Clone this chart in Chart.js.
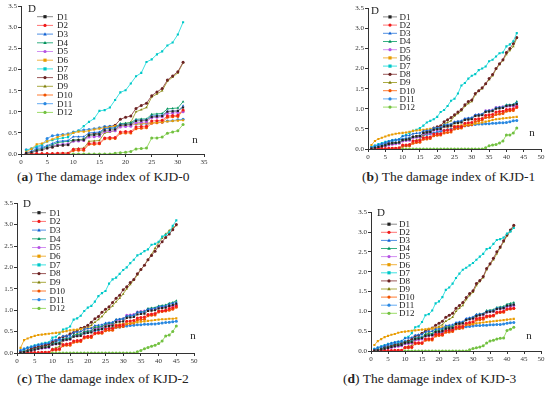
<!DOCTYPE html>
<html>
<head>
<meta charset="utf-8">
<script src="https://cdn.jsdelivr.net/npm/chart.js@4.4.0/dist/chart.umd.min.js"></script>
<style>
  body { margin: 0; background: #fff; }
  #page { position: relative; width: 550px; height: 395px; overflow: hidden; background: #fff; }
  canvas { position: absolute; }
  .cap { position: absolute; font-family: "Liberation Serif", serif; font-size: 13.5px; color: #222; white-space: nowrap; }
</style>
</head>
<body>
<div id="page">
  <canvas id="chartA"></canvas>
  <canvas id="chartB"></canvas>
  <canvas id="chartC"></canvas>
  <canvas id="chartD"></canvas>
  <div class="cap" style="left:17px;top:169px">(<b>a</b>) The damage index of KJD-0</div>
  <div class="cap" style="left:362px;top:169px">(<b>b</b>) The damage index of KJD-1</div>
  <div class="cap" style="left:17px;top:371px">(<b>c</b>) The damage index of KJD-2</div>
  <div class="cap" style="left:343px;top:371px">(<b>d</b>) The damage index of KJD-3</div>
</div>
<script>
const seriesNames = ['D1','D2','D3','D4','D5','D6','D7','D8','D9','D10','D11','D12'];
const yTicks = [0, 0.5, 1.0, 1.5, 2.0, 2.5, 3.0, 3.5];

// KJD-0, n = 1..31
const a1 = [0.02,0.04,0.08,0.10,0.14, 0.17,0.20,0.21,0.22, 0.32,0.33,0.33, 0.44,0.45,0.46, 0.56,0.57,0.58, 0.68,0.69,0.70, 0.78,0.79,0.80, 0.88,0.89,0.90, 1.00,1.01,1.02, 1.10];
const a2 = [0,0,0.01,0.01,0.01, 0.01,0.02,0.02,0.02, 0.11,0.12,0.12, 0.25,0.26,0.26, 0.38,0.39,0.39, 0.52,0.53,0.53, 0.64,0.65,0.66, 0.78,0.79,0.80, 0.90,0.91,0.92, 1.04];
const a3 = [0.03,0.06,0.13,0.15,0.20, 0.25,0.30,0.31,0.32, 0.41,0.41,0.41, 0.50,0.51,0.52, 0.60,0.61,0.62, 0.70,0.70,0.71, 0.80,0.80,0.81, 0.90,0.91,0.92, 1.01,1.02,1.02, 1.14];
const a4 = [0.02,0.05,0.10,0.13,0.18, 0.22,0.27,0.29,0.30, 0.33,0.34,0.35, 0.45,0.46,0.47, 0.60,0.61,0.62, 0.72,0.73,0.74, 0.82,0.83,0.83, 0.94,0.95,0.96, 1.07,1.08,1.09, 1.24];
const a5 = [0.02,0.04,0.08,0.11,0.15, 0.19,0.22,0.23,0.24, 0.30,0.31,0.32, 0.40,0.41,0.42, 0.53,0.54,0.55, 0.64,0.65,0.66, 0.74,0.75,0.76, 0.86,0.87,0.88, 0.96,0.97,0.98, 1.00];
const a6 = [0.05,0.12,0.23,0.25,0.30, 0.35,0.40,0.44,0.46, 0.50,0.53,0.53, 0.55,0.58,0.60, 0.62,0.64,0.66, 0.67,0.68,0.70, 0.71,0.72,0.73, 0.74,0.75,0.76, 0.77,0.78,0.79, 0.80];
const a7 = [0.09,0.13,0.18,0.22,0.30, 0.33,0.36,0.38,0.40, 0.50,0.55,0.66, 0.76,0.84,1.02, 1.04,1.10,1.28, 1.46,1.51,1.67, 1.84,1.92,2.18, 2.24,2.36,2.43, 2.57,2.64,2.83, 3.12];
const a8 = [0.02,0.04,0.07,0.10,0.14, 0.16,0.20,0.21,0.22, 0.32,0.33,0.35, 0.46,0.48,0.50, 0.62,0.64,0.68, 0.82,0.87,0.90, 1.08,1.15,1.20, 1.38,1.47,1.55, 1.75,1.85,1.95, 2.17];
const a9 = [0,0,0,0,0.01, 0.01,0.01,0.02,0.02, 0.12,0.13,0.14, 0.30,0.31,0.32, 0.50,0.52,0.55, 0.70,0.72,0.75, 1.00,1.05,1.10, 1.35,1.42,1.50, 1.72,1.82,1.92, 2.16];
const a10 = [0,0,0,0,0, 0,0,0.01,0.01, 0.08,0.09,0.09, 0.23,0.23,0.24, 0.36,0.36,0.37, 0.49,0.50,0.50, 0.60,0.61,0.62, 0.73,0.74,0.75, 0.87,0.88,0.89, 1.02];
const a11 = [0.10,0.12,0.16,0.20,0.37, 0.43,0.45,0.46,0.48, 0.52,0.55,0.57, 0.58,0.60,0.62, 0.65,0.66,0.67, 0.68,0.69,0.70, 0.71,0.71,0.72, 0.74,0.75,0.76, 0.78,0.79,0.81, 0.82];
const a12 = [0,0,0,0,0, 0,0,0,0, 0,0,0, 0,0,0, 0,0,0.02, 0.03,0.04,0.06, 0.12,0.13,0.14, 0.38,0.38,0.40, 0.49,0.52,0.55, 0.70];

// KJD-1, n = 1..43
const b1 = [0.01,0.03,0.05,0.07,0.09, 0.12,0.14,0.15,0.16, 0.22,0.23,0.24, 0.30,0.31,0.32, 0.40,0.41,0.42, 0.48,0.49,0.50, 0.56,0.57,0.58, 0.64,0.65,0.66, 0.72,0.73,0.74, 0.82,0.83,0.84, 0.92,0.93,0.94, 1.00,1.01,1.02, 1.07,1.08,1.09, 1.12];
const b2 = [0,0,0.01,0.01,0.01, 0.02,0.02,0.02,0.03, 0.10,0.10,0.11, 0.20,0.20,0.21, 0.28,0.29,0.30, 0.37,0.38,0.38, 0.46,0.47,0.47, 0.55,0.56,0.56, 0.64,0.65,0.66, 0.74,0.75,0.76, 0.84,0.85,0.86, 0.92,0.93,0.94, 0.98,0.99,1.00, 1.05];
const b3 = [0.03,0.06,0.10,0.13,0.16, 0.19,0.22,0.23,0.24, 0.32,0.33,0.34, 0.38,0.39,0.40, 0.45,0.46,0.47, 0.52,0.53,0.54, 0.60,0.61,0.62, 0.68,0.69,0.70, 0.76,0.77,0.78, 0.85,0.86,0.87, 0.94,0.95,0.96, 1.02,1.03,1.04, 1.08,1.09,1.10, 1.15];
const b4 = [0.01,0.03,0.05,0.08,0.10, 0.12,0.14,0.15,0.16, 0.22,0.23,0.24, 0.30,0.31,0.32, 0.40,0.41,0.42, 0.50,0.51,0.52, 0.58,0.59,0.60, 0.66,0.67,0.68, 0.74,0.75,0.76, 0.84,0.85,0.86, 0.94,0.95,0.96, 1.02,1.03,1.04, 1.10,1.10,1.11, 1.18];
const b5 = [0.01,0.02,0.04,0.06,0.08, 0.10,0.12,0.13,0.14, 0.20,0.21,0.22, 0.28,0.29,0.30, 0.38,0.39,0.40, 0.47,0.48,0.49, 0.56,0.57,0.58, 0.66,0.67,0.68, 0.74,0.75,0.76, 0.84,0.85,0.86, 0.95,0.96,0.97, 1.03,1.04,1.05, 1.06,1.07,1.07, 1.08];
const b6 = [0.10,0.20,0.25,0.28,0.31, 0.34,0.36,0.38,0.39,0.40, 0.41,0.43,0.45,0.46,0.47, 0.48,0.49,0.50,0.51,0.52, 0.53,0.54,0.55,0.56,0.57, 0.58,0.59,0.60,0.61,0.62, 0.63,0.64,0.66,0.68,0.70, 0.72,0.74,0.75,0.76,0.77, 0.78,0.79,0.80];
const b7 = [0.04,0.08,0.12,0.15,0.18, 0.20,0.22,0.23,0.25,0.33, 0.35,0.40,0.45,0.48,0.52, 0.58,0.66,0.70,0.74,0.80, 0.92,0.97,1.07,1.20,1.25, 1.38,1.58,1.64,1.75,1.82, 1.86,1.96,2.00,2.05,2.18, 2.22,2.30,2.38,2.40,2.55, 2.60,2.68,2.88];
const b8 = [0.01,0.02,0.04,0.06,0.10, 0.13,0.15,0.15,0.16,0.22, 0.23,0.25,0.30,0.32,0.32, 0.40,0.43,0.45,0.52,0.55, 0.58,0.68,0.73,0.78,0.85, 0.92,0.98,1.10,1.18,1.22, 1.38,1.45,1.52,1.62,1.75, 1.85,2.00,2.12,2.22,2.40, 2.50,2.62,2.77];
const b9 = [0,0,0,0,0, 0.01,0.01,0.01,0.01, 0.08,0.08,0.09, 0.20,0.22,0.24, 0.35,0.38,0.42, 0.50,0.53,0.56, 0.62,0.66,0.70, 0.82,0.88,0.95, 1.06,1.13,1.18, 1.35,1.45,1.50, 1.62,1.72,1.82, 1.98,2.10,2.20, 2.35,2.45,2.55, 2.75];
const b10 = [0,0,0,0,0, 0,0.01,0.01,0.01, 0.07,0.08,0.08, 0.14,0.16,0.17, 0.24,0.25,0.26, 0.33,0.34,0.35, 0.40,0.41,0.42, 0.50,0.51,0.52, 0.58,0.59,0.60, 0.68,0.70,0.72, 0.78,0.79,0.80, 0.86,0.87,0.88, 0.94,0.95,0.96, 1.03];
const b11 = [0.05,0.08,0.10,0.12,0.14, 0.16,0.20,0.22,0.23,0.25, 0.26,0.28,0.30,0.31,0.33, 0.35,0.36,0.38,0.40,0.42, 0.44,0.46,0.48,0.50,0.52, 0.54,0.56,0.58,0.59,0.60, 0.61,0.62,0.62,0.63,0.63, 0.64,0.64,0.65,0.65,0.66, 0.68,0.70,0.71];
const b12 = [0,0,0,0,0, 0,0,0,0,0, 0,0,0,0,0, 0,0,0,0,0, 0,0,0,0,0, 0,0,0,0,0, 0,0,0,0.03,0.08, 0.10,0.11,0.15,0.20,0.35, 0.35,0.40,0.52];

// KJD-2, n = 1..45
const c1 = [0.01,0.02,0.04,0.06,0.08, 0.10,0.12,0.13,0.14, 0.20,0.21,0.22, 0.30,0.31,0.32, 0.38,0.39,0.40, 0.46,0.47,0.48, 0.54,0.55,0.56, 0.62,0.63,0.64, 0.72,0.73,0.74, 0.82,0.83,0.84, 0.90,0.91,0.92, 0.98,0.99,1.00, 1.04,1.05,1.06, 1.10,1.12,1.15];
const c2 = [0,0,0,0.01,0.01, 0.01,0.02,0.02,0.02, 0.08,0.09,0.10, 0.20,0.21,0.22, 0.28,0.29,0.30, 0.38,0.39,0.40, 0.47,0.48,0.49, 0.56,0.57,0.58, 0.64,0.65,0.66, 0.74,0.75,0.76, 0.82,0.83,0.84, 0.90,0.91,0.92, 0.98,0.99,1.00, 1.04,1.06,1.10];
const c3 = [0.05,0.09,0.12,0.14,0.17, 0.19,0.21,0.22,0.23, 0.30,0.31,0.32, 0.40,0.40,0.41, 0.48,0.49,0.50, 0.56,0.57,0.58, 0.64,0.65,0.66, 0.70,0.71,0.72, 0.78,0.79,0.80, 0.86,0.87,0.88, 0.94,0.95,0.96, 1.02,1.03,1.04, 1.08,1.09,1.10, 1.14,1.16,1.18];
const c4 = [0.01,0.03,0.05,0.07,0.09, 0.11,0.13,0.14,0.15, 0.22,0.23,0.24, 0.32,0.33,0.34, 0.42,0.43,0.44, 0.50,0.51,0.52, 0.60,0.61,0.62, 0.68,0.69,0.70, 0.78,0.79,0.80, 0.86,0.87,0.88, 0.95,0.96,0.97, 1.04,1.05,1.06, 1.10,1.11,1.12, 1.16,1.18,1.22];
const c5 = [0.01,0.02,0.04,0.06,0.08, 0.10,0.11,0.12,0.13, 0.20,0.21,0.22, 0.30,0.31,0.32, 0.40,0.41,0.42, 0.50,0.51,0.52, 0.58,0.59,0.60, 0.66,0.67,0.68, 0.76,0.78,0.80, 0.88,0.89,0.90, 0.96,0.97,0.98, 1.02,1.03,1.04, 1.06,1.07,1.08, 1.09,1.10,1.12];
const c6 = [0.12,0.30,0.34,0.37,0.40, 0.42,0.43,0.44,0.45,0.46, 0.47,0.48,0.50,0.51,0.53, 0.54,0.55,0.56,0.57,0.58, 0.59,0.60,0.61,0.62,0.63, 0.64,0.65,0.66,0.67,0.68, 0.69,0.70,0.71,0.72,0.73, 0.74,0.75,0.76,0.77,0.78, 0.79,0.79,0.80,0.80,0.81];
const c7 = [0.04,0.08,0.12,0.15,0.18, 0.20,0.22,0.24,0.25,0.36, 0.38,0.45,0.55,0.57,0.62, 0.78,0.81,0.87,0.98,1.06, 1.10,1.20,1.33,1.40,1.45, 1.62,1.72,1.76,1.85,1.94, 2.00,2.10,2.18,2.28,2.32, 2.38,2.42,2.53,2.55,2.60, 2.72,2.76,2.82,2.97,3.10];
const c8 = [0.02,0.04,0.06,0.10,0.12, 0.14,0.15,0.18,0.20,0.25, 0.30,0.35,0.38,0.40,0.45, 0.48,0.52,0.58,0.60,0.65, 0.72,0.80,0.85,0.95,1.02, 1.08,1.18,1.28,1.35,1.48, 1.55,1.65,1.72,1.85,1.95, 2.05,2.18,2.28,2.38,2.50, 2.60,2.70,2.78,2.88,3.00];
const c9 = [0,0,0,0,0, 0.01,0.01,0.01,0.02, 0.10,0.12,0.15, 0.28,0.30,0.32, 0.40,0.45,0.50, 0.55,0.60,0.65, 0.72,0.78,0.85, 0.95,1.02,1.10, 1.20,1.28,1.38, 1.50,1.60,1.70, 1.82,1.95,2.05, 2.18,2.30,2.45, 2.58,2.68,2.78, 2.86,2.92,2.98];
const c10 = [0,0,0,0,0, 0,0,0.01,0.01, 0.07,0.07,0.08, 0.17,0.18,0.18, 0.25,0.26,0.27, 0.35,0.36,0.36, 0.45,0.46,0.46, 0.52,0.53,0.53, 0.60,0.61,0.62, 0.68,0.69,0.70, 0.77,0.78,0.79, 0.87,0.88,0.89, 0.96,0.97,0.98, 1.00,1.02,1.07];
const c11 = [0.06,0.10,0.12,0.14,0.16, 0.18,0.20,0.22,0.23,0.24, 0.26,0.30,0.32,0.34,0.36, 0.40,0.42,0.44,0.46,0.48, 0.50,0.52,0.54,0.56,0.57, 0.58,0.59,0.60,0.61,0.62, 0.63,0.64,0.65,0.66,0.66, 0.67,0.67,0.68,0.68,0.69, 0.70,0.71,0.72,0.73,0.74];
const c12 = [0,0,0,0,0, 0,0,0,0,0, 0,0,0,0,0, 0,0,0,0,0, 0,0,0,0,0, 0,0,0,0,0, 0,0,0,0.03,0.06, 0.10,0.13,0.16,0.18,0.22, 0.28,0.40,0.42,0.50,0.63];

// KJD-3, n = 1..42
const d1 = [0.01,0.02,0.04,0.06,0.08, 0.10,0.12,0.14,0.15, 0.20,0.21,0.22, 0.30,0.31,0.32, 0.38,0.39,0.40, 0.48,0.49,0.50, 0.56,0.57,0.58, 0.68,0.69,0.70, 0.78,0.80,0.82, 0.88,0.90,0.92, 0.98,0.99,1.00, 1.06,1.07,1.08, 1.14,1.15,1.17];
const d2 = [0,0,0,0.01,0.01, 0.01,0.02,0.02,0.02, 0.09,0.10,0.10, 0.20,0.21,0.21, 0.30,0.31,0.31, 0.42,0.43,0.43, 0.52,0.53,0.53, 0.60,0.61,0.62, 0.70,0.72,0.74, 0.82,0.83,0.84, 0.88,0.89,0.90, 0.98,0.99,1.00, 1.06,1.07,1.08];
const d3 = [0.04,0.08,0.11,0.14,0.17, 0.20,0.22,0.24,0.25, 0.32,0.33,0.34, 0.40,0.41,0.42, 0.48,0.49,0.50, 0.55,0.56,0.57, 0.64,0.65,0.66, 0.72,0.73,0.74, 0.82,0.84,0.86, 0.92,0.93,0.94, 1.00,1.01,1.02, 1.08,1.09,1.10, 1.15,1.16,1.18];
const d4 = [0.01,0.03,0.05,0.07,0.09, 0.11,0.13,0.15,0.16, 0.22,0.23,0.24, 0.32,0.33,0.34, 0.42,0.43,0.44, 0.52,0.53,0.54, 0.60,0.61,0.62, 0.70,0.71,0.72, 0.80,0.82,0.84, 0.92,0.93,0.94, 1.02,1.03,1.04, 1.10,1.11,1.12, 1.18,1.20,1.22];
const d5 = [0.01,0.02,0.03,0.05,0.07, 0.09,0.11,0.12,0.13, 0.18,0.19,0.20, 0.28,0.29,0.30, 0.38,0.39,0.40, 0.48,0.49,0.50, 0.58,0.59,0.60, 0.68,0.69,0.70, 0.80,0.81,0.82, 0.90,0.91,0.92, 0.98,0.99,1.00, 1.06,1.07,1.08, 1.12,1.13,1.15];
const d6 = [0.15,0.25,0.30,0.35,0.38, 0.41,0.43,0.46,0.48,0.49, 0.50,0.51,0.52,0.53,0.54, 0.55,0.56,0.57,0.58,0.59, 0.60,0.61,0.62,0.63,0.64, 0.65,0.66,0.67,0.68,0.69, 0.70,0.71,0.72,0.73,0.74, 0.75,0.76,0.77,0.78,0.79, 0.80,0.81];
const d7 = [0.05,0.08,0.12,0.15,0.18, 0.20,0.22,0.23,0.25,0.33, 0.36,0.45,0.60,0.62,0.73, 0.90,0.93,1.02,1.20,1.25, 1.36,1.54,1.60,1.70,1.84, 1.95,2.05,2.10,2.16,2.22, 2.30,2.38,2.45,2.57,2.60, 2.70,2.80,2.82,2.86,2.96, 3.01,3.10];
const d8 = [0.02,0.03,0.05,0.08,0.10, 0.12,0.15,0.16,0.18,0.22, 0.25,0.30,0.38,0.40,0.45, 0.50,0.55,0.58,0.65,0.70, 0.75,0.85,0.90,0.95,1.08, 1.15,1.22,1.35,1.45,1.52, 1.70,1.78,1.88,2.08,2.20, 2.34,2.50,2.62,2.78,2.93, 3.05,3.17];
const d9 = [0,0,0,0,0, 0.01,0.01,0.01,0.02, 0.10,0.12,0.14, 0.28,0.30,0.32, 0.42,0.46,0.50, 0.58,0.62,0.66, 0.75,0.80,0.85, 1.00,1.08,1.15, 1.30,1.40,1.48, 1.65,1.75,1.85, 2.05,2.18,2.30, 2.45,2.60,2.75, 2.90,3.02,3.15];
const d10 = [0,0,0,0,0, 0,0,0.01,0.01, 0.08,0.08,0.09, 0.18,0.19,0.19, 0.27,0.28,0.28, 0.38,0.39,0.40, 0.47,0.48,0.49, 0.56,0.57,0.58, 0.66,0.67,0.68, 0.78,0.79,0.80, 0.86,0.87,0.88, 0.96,0.97,0.98, 1.05,1.06,1.07];
const d11 = [0.05,0.08,0.10,0.12,0.14, 0.16,0.18,0.20,0.21,0.25, 0.26,0.28,0.32,0.34,0.36, 0.38,0.40,0.42,0.44,0.46, 0.48,0.50,0.52,0.54,0.56, 0.58,0.60,0.61,0.62,0.63, 0.64,0.64,0.65,0.65,0.66, 0.66,0.67,0.67,0.68,0.70, 0.71,0.72];
const d12 = [0,0,0,0,0, 0,0,0,0,0, 0,0,0,0,0, 0,0,0,0,0, 0,0,0,0,0, 0,0,0,0.03,0.06, 0.08,0.10,0.13,0.20,0.25, 0.27,0.30,0.32,0.33,0.52, 0.55,0.60];

// line colour, marker colour, marker shape
const lineColors  = ['#8a8a8a','#ff7373','#4f8fe3','#35b082','#d290f2','#f0b444','#3ee2e2','#9c5a5a','#abab42','#ff7d33','#64abf2','#9ddc6a'];
const pointColors = ['#222222','#ee1a1a','#1262d2','#00905a','#b452e2','#e89c00','#00c6c6','#6a2222','#7f7f10','#f05200','#2a88e0','#72c042'];
const shapes = ['rect','circle','triangle','triangle','circle','rect','rect','circle','triangle','circle','circle','circle'];

const panels = [
  { id: 'chartA', L: 21,  T: 6,   R: 204, B: 154, xMax: 35, data: [a1,a2,a3,a4,a5,a6,a7,a8,a9,a10,a11,a12],
    leg: { x: 16, top: 10.5, gap: 8.7, len: 16, tx: 36 }, dLab: { x: 11, y: 3 }, nLab: { x: -9, y: -14 } },
  { id: 'chartB', L: 368, T: 8,   R: 541, B: 149, xMax: 50, data: [b1,b2,b3,b4,b5,b6,b7,b8,b9,b10,b11,b12],
    leg: { x: 15, top: 8.7, gap: 8.2, len: 14, tx: 31.5 }, dLab: { x: 7, y: 3 }, nLab: { x: -9, y: -16 } },
  { id: 'chartC', L: 17,  T: 203, R: 194, B: 353, xMax: 50, data: [c1,c2,c3,c4,c5,c6,c7,c8,c9,c10,c11,c12],
    leg: { x: 15, top: 9.5, gap: 8.7, len: 14, tx: 32.5 }, dLab: { x: 10, y: 1 }, nLab: { x: -1, y: -17 } },
  { id: 'chartD', L: 371, T: 212, R: 541, B: 351, xMax: 50, data: [d1,d2,d3,d4,d5,d6,d7,d8,d9,d10,d11,d12],
    leg: { x: 10, top: 12, gap: 8.1, len: 16, tx: 28 }, dLab: { x: 10, y: 1 }, nLab: { x: -12, y: -15 } }
];

const yW = 17, xH = 13, padTop = 5, padRight = 7;
const serif = '"Liberation Serif", serif';

function marker(ctx, shape, x, y, r) {
  ctx.beginPath();
  if (shape === 'rect') {
    ctx.rect(x - r, y - r, 2 * r, 2 * r);
  } else if (shape === 'triangle') {
    ctx.moveTo(x, y - r * 1.2);
    ctx.lineTo(x + r * 1.1, y + r * 0.8);
    ctx.lineTo(x - r * 1.1, y + r * 0.8);
    ctx.closePath();
  } else {
    ctx.arc(x, y, r, 0, Math.PI * 2);
  }
  ctx.fill();
}

// legend inside the plot + the "D" and "n" axis letters
const overlay = {
  id: 'overlay',
  afterDatasetsDraw(chart, args, opts) {
    const ctx = chart.ctx, ca = chart.chartArea;
    ctx.save();
    ctx.font = '9px ' + serif;
    ctx.textBaseline = 'middle';
    chart.data.datasets.forEach((ds, i) => {
      const y = ca.top + opts.leg.top + i * opts.leg.gap;
      const x0 = ca.left + opts.leg.x;
      ctx.strokeStyle = ds.borderColor;
      ctx.lineWidth = 1;
      ctx.beginPath();
      ctx.moveTo(x0, y);
      ctx.lineTo(x0 + opts.leg.len, y);
      ctx.stroke();
      ctx.fillStyle = ds.pointBackgroundColor;
      marker(ctx, ds.pointStyle, x0 + opts.leg.len / 2, y, 1.6);
      ctx.fillStyle = '#222';
      ctx.fillText(ds.label, ca.left + opts.leg.tx, y + 0.5);
    });
    // letters are placed by their centre
    ctx.font = '11px ' + serif;
    ctx.textAlign = 'center';
    ctx.textBaseline = 'middle';
    ctx.fillStyle = '#222';
    ctx.fillText('D', ca.left + opts.dLab.x, ca.top + opts.dLab.y);
    ctx.fillText('n', ca.right + opts.nLab.x, ca.bottom + opts.nLab.y);
    ctx.restore();
  }
};

panels.forEach(p => {
  const cv = document.getElementById(p.id);
  const w = p.R - p.L + yW + padRight;
  const h = p.B - p.T + padTop + xH;
  cv.width = w; cv.height = h;
  cv.style.left = (p.L - yW) + 'px';
  cv.style.top = (p.T - padTop) + 'px';

  const datasets = p.data.map((vals, i) => ({
    label: seriesNames[i],
    data: vals.map((v, k) => ({ x: k + 1, y: v })),
    borderColor: lineColors[i],
    backgroundColor: pointColors[i],
    pointBackgroundColor: pointColors[i],
    pointBorderWidth: 0,
    pointStyle: shapes[i],
    pointRadius: 1.5,
    borderWidth: 1,
    tension: 0
  }));

  new Chart(cv, {
    type: 'line',
    data: { datasets },
    plugins: [overlay],
    options: {
      responsive: false,
      animation: false,
      layout: { padding: { top: padTop, right: padRight, left: 0, bottom: 0 } },
      plugins: {
        legend: { display: false },
        tooltip: { enabled: false },
        overlay: { leg: p.leg, dLab: p.dLab, nLab: p.nLab }
      },
      scales: {
        x: {
          type: 'linear', min: 0, max: p.xMax,
          afterFit: s => { s.height = xH; },
          ticks: { stepSize: 5, padding: 1, font: { family: serif, size: 7 }, color: '#333', maxRotation: 0 },
          grid: { drawOnChartArea: false, drawTicks: true, tickLength: 3, color: '#333' },
          border: { color: '#333', width: 1 }
        },
        y: {
          min: 0, max: 3.5,
          afterFit: s => { s.width = yW; },
          afterBuildTicks: s => { s.ticks = yTicks.map(v => ({ value: v })); },
          ticks: { padding: 1, font: { family: serif, size: 7 }, color: '#333', callback: v => v.toFixed(1) },
          grid: { drawOnChartArea: false, drawTicks: true, tickLength: 3, color: '#333' },
          border: { color: '#333', width: 1 }
        }
      }
    }
  });
});
</script>
</body>
</html>
